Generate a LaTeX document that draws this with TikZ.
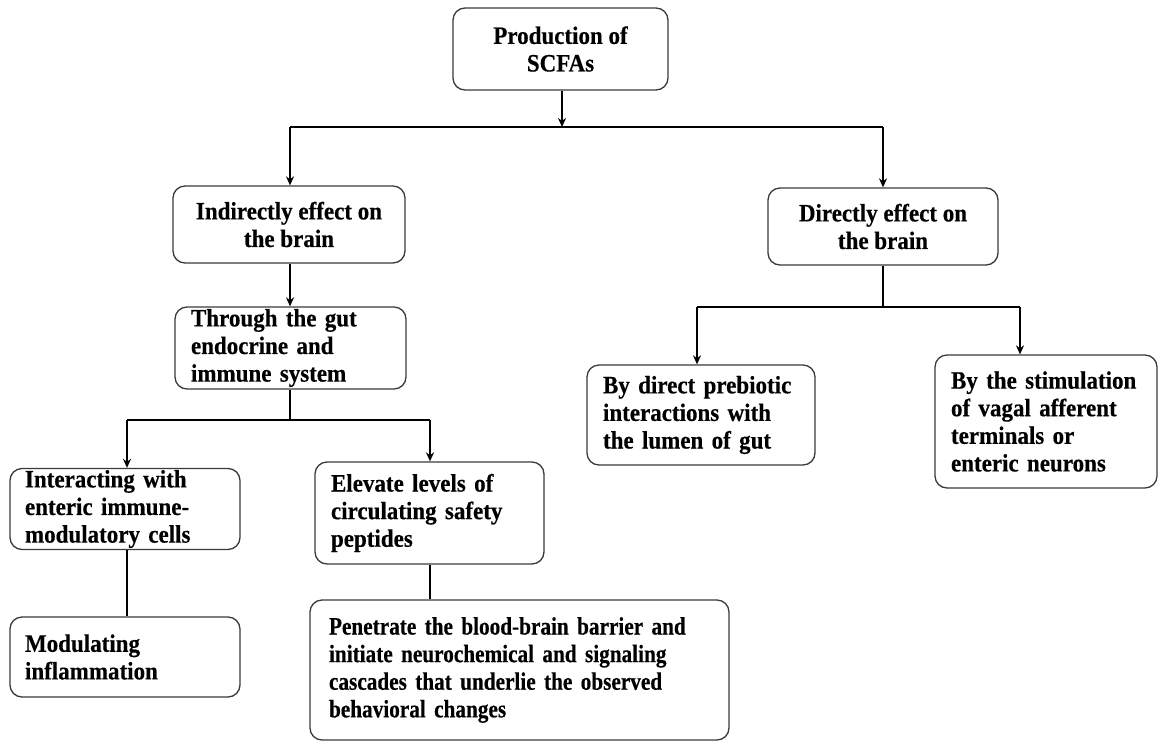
\documentclass[tikz,border=0pt]{standalone}
\usepackage{fontspec}
\setmainfont[FakeStretch=0.92, BoldFeatures={FakeBold=0.4}]{Liberation Serif}
\newfontfamily\narrowserif[FakeStretch=0.85, BoldFeatures={FakeBold=0.4}]{Liberation Serif}
\usetikzlibrary{arrows.meta}
\definecolor{boxline}{HTML}{3A3A3A}
\begin{document}
\begin{tikzpicture}[x=1pt,y=-1pt,
  box/.style={draw=boxline, line width=1.3pt, rounded corners=12pt,
    font=\fontsize{25}{27.6}\selectfont\bfseries, inner ysep=0pt},
  cbox/.style={box, align=center, inner xsep=0pt},
  lbox/.style={box, align=left},
  link/.style={line width=2.6pt, black},
  arr/.style={link, -{Stealth[length=9pt,width=8pt]}}]
\useasboundingbox (0,0) rectangle (1159,742);

% boxes
\node[cbox, minimum width=215pt, minimum height=82pt] (b1) at (560.5,49) {Production of\\SCFAs};
\node[cbox, minimum width=232pt, minimum height=77pt] (b2) at (289,224.5) {Indirectly effect on\\the brain};
\node[cbox, minimum width=230pt, minimum height=77pt] (b3) at (883,226.5) {Directly effect on\\the brain};
\node[lbox, inner xsep=16pt, text width=199pt, minimum width=231pt, minimum height=82pt] (b4) at (290.5,348)
  {Through the gut\\endocrine and\\immune system};
\node[lbox, inner xsep=15pt, text width=200pt, minimum width=230pt, minimum height=81pt] (b5) at (125,509)
  {Interacting with\\enteric immune-\\modulatory cells};
\node[lbox, inner xsep=16pt, text width=197pt, minimum width=229pt, minimum height=102pt] (b6) at (429.5,513)
  {Elevate levels of\\circulating safety\\peptides};
\node[lbox, inner xsep=15pt, text width=200pt, minimum width=230pt, minimum height=80pt] (b7) at (125,657)
  {Modulating\\inflammation};
\node[lbox, inner xsep=19pt, text width=381pt, minimum width=419pt, minimum height=140pt,
  font=\fontsize{25}{27.6}\narrowserif\bfseries] (b8) at (519.5,670)
  {Penetrate the blood-brain barrier and\\initiate neurochemical and signaling\\cascades that underlie the observed\\behavioral changes};
\node[lbox, inner xsep=16pt, text width=196pt, minimum width=228pt, minimum height=100pt] (b9) at (701,415)
  {By direct prebiotic\\interactions with\\the lumen of gut};
\node[lbox, inner xsep=16pt, text width=190pt, minimum width=222pt, minimum height=133pt] (b10) at (1046,421.5)
  {By the stimulation\\of vagal afferent\\terminals or\\enteric neurons};

% branching points
\coordinate (t0) at (562,127);
\coordinate (tl) at (290,127);
\coordinate (tr) at (883,127);
\coordinate (m0) at (290,420);
\coordinate (ml) at (127,420);
\coordinate (mr) at (430,420);
\coordinate (r0) at (883,307);
\coordinate (rl) at (697,307);
\coordinate (rr) at (1020,307);

% connectors
\draw[arr] (b1.south -| t0) -- (t0);
\draw[link] (tl) -- (tr);
\draw[arr] (tl) -- (b2.north -| tl);
\draw[arr] (tr) -- (b3.north -| tr);
\draw[arr] (b2.south -| tl) -- (b4.north -| tl);
\draw[link] (b4.south -| m0) -- (m0);
\draw[link] (ml) -- (mr);
\draw[arr] (ml) -- (b5.north -| ml);
\draw[arr] (mr) -- (b6.north -| mr);
\draw[link] (b5.south -| ml) -- (b7.north -| ml);
\draw[link] (b6.south -| mr) -- (b8.north -| mr);
\draw[link] (b3.south) -- (r0);
\draw[link] (rl) -- (rr);
\draw[arr] (rl) -- (b9.north -| rl);
\draw[arr] (rr) -- (b10.north -| rr);
\end{tikzpicture}
\end{document}
